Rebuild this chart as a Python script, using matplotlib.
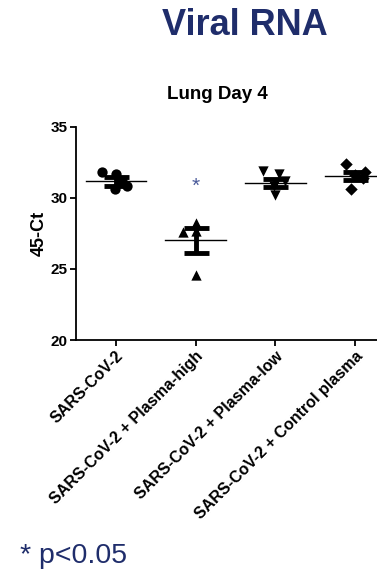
import numpy as np
import matplotlib
matplotlib.use("Agg")
import matplotlib.pyplot as plt

plt.rcParams['font.family'] = ['Liberation Sans', 'DejaVu Sans']

groups = ["SARS-CoV-2", "SARS-CoV-2 + Plasma-high",
          "SARS-CoV-2 + Plasma-low", "SARS-CoV-2 + Control plasma"]
markers = ["o", "^", "v", "D"]

# values (45-Ct)
vals_virus = [31.8, 31.7, 31.2, 30.8, 30.6]
vals_high = [28.2, 27.6, 27.7, 24.6]
vals_low = [31.9, 31.7, 31.2, 30.8, 30.2]
vals_ctrl = [32.4, 31.8, 31.6, 31.4, 30.6]
jitter_virus = [-0.18, -0.0, 0.08, 0.14, -0.01]
jitter_high = [0.0, -0.16, 0.0, 0.0]
jitter_low = [-0.15, 0.05, 0.12, -0.02, 0.0]
jitter_ctrl = [-0.12, 0.12, 0.0, 0.1, -0.05]

means = [31.15, 27.0, 31.05, 31.55]
sems = [0.3, 0.85, 0.3, 0.28]

star_y = 31.2
yticks = [20, 25, 30, 35]

navy = "#1f2d6b"

fig = plt.figure(figsize=(3.77, 5.73), dpi=100)
ax = fig.add_axes([0.2016, 0.4066, 0.846, 0.3723])

all_vals = [vals_virus, vals_high, vals_low, vals_ctrl]
all_jit = [jitter_virus, jitter_high, jitter_low, jitter_ctrl]
for i, (v, j) in enumerate(zip(all_vals, all_jit)):
    ax.scatter(np.array(j) + i, v, marker=markers[i], s=55 if markers[i] != "D" else 40,
               color="black", zorder=3, linewidths=0)
    ax.plot([i - 0.38, i + 0.38], [means[i], means[i]], color="black", lw=1.0, zorder=4)
    ax.errorbar(i, means[i], yerr=sems[i], color="black", lw=3.5, capsize=9,
                capthick=3.5, zorder=4)

# significance mark (asterisk glyph sits high in its box, so nudge it down)
ax.annotate("*", (1, star_y), xytext=(0, -4), textcoords="offset points",
            color="#4a5a9a", ha="center", va="center", fontsize=15)

ax.set_xlim(-0.5, 3.5)
ax.set_ylim(20, 35)
ax.set_yticks(yticks)
ax.set_yticklabels([str(t) for t in yticks], fontweight="bold", fontsize=11)
ax.set_xticks(range(len(groups)))
ax.set_xticklabels(groups, rotation=45, ha="right", rotation_mode="anchor",
                   fontweight="bold", fontsize=11.5)
ax.spines["top"].set_visible(False)
ax.spines["right"].set_visible(False)
ax.spines["left"].set_linewidth(1.3)
ax.spines["bottom"].set_linewidth(1.3)
ax.tick_params(axis="both", length=4, width=1.3, pad=2)
ax.set_ylabel("45-Ct", fontweight="bold", fontsize=13, labelpad=2)

fig.text(217 / 377, 1 - 99 / 573, "Lung Day 4", fontweight="bold", fontsize=13.5,
         ha="center", va="baseline")
fig.text(245 / 377, 1 - 35 / 573, "Viral RNA", color=navy, fontweight="bold", fontsize=26,
         ha="center", va="baseline")
fig.text(20 / 377, 1 - 563 / 573, "* p<0.05", color=navy, fontsize=20.5,
         ha="left", va="baseline")

fig.savefig("out.png", dpi=100)
